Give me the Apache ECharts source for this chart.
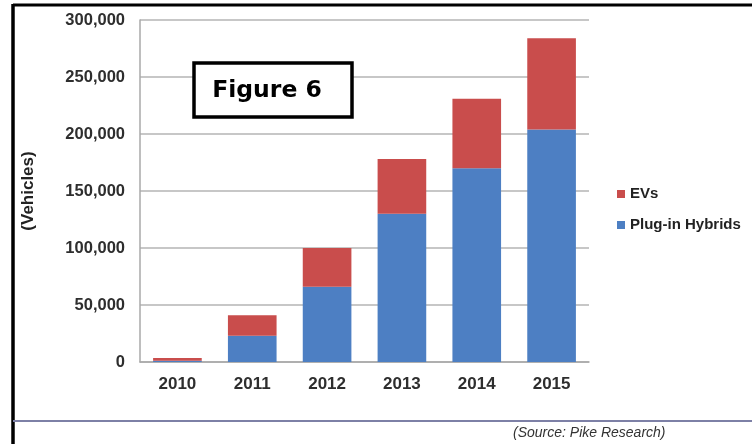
<!DOCTYPE html>
<html>
<head>
<meta charset="utf-8">
<script src="https://cdn.jsdelivr.net/npm/echarts@6/dist/echarts.min.js"></script>
<style>
html,body{margin:0;padding:0;background:#fff;}
#c{width:752px;height:444px;}
</style>
</head>
<body>
<div id="c"></div>
<script>
const years = ['2010', '2011', '2012', '2013', '2014', '2015'];
const plugInHybrids = [1000, 23000, 66000, 130000, 170000, 204000];
const evs = [2500, 18000, 34000, 48000, 61000, 80000];
const yTicks = [0, 50000, 100000, 150000, 200000, 250000, 300000];
const seriesNames = ['EVs', 'Plug-in Hybrids'];

const chart = echarts.init(document.getElementById('c'), null, {renderer: 'canvas'});
const lbl = {fontFamily: 'Liberation Sans, Arial, sans-serif', fontWeight: 'bold', color: '#2e2e2e'};

chart.setOption({
  animation: false,
  backgroundColor: '#ffffff',
  grid: {left: 140, right: 163, top: 20, bottom: 82, containLabel: false},
  legend: {
    data: seriesNames,
    orient: 'vertical',
    left: 612,
    top: 181,
    itemWidth: 8,
    itemHeight: 8,
    itemGap: 15,
    icon: 'rect',
    textStyle: Object.assign({}, lbl, {fontSize: 15, lineHeight: 16, color: '#222'})
  },
  xAxis: {
    type: 'category',
    data: years,
    axisLine: {show: true, lineStyle: {color: '#a8a8a8', width: 1.5}},
    axisTick: {show: false},
    axisLabel: Object.assign({}, lbl, {fontSize: 17, margin: 14})
  },
  yAxis: {
    type: 'value',
    min: yTicks[0],
    max: yTicks[yTicks.length - 1],
    interval: yTicks[1] - yTicks[0],
    name: '(Vehicles)',
    nameLocation: 'middle',
    nameGap: 103,
    nameRotate: 90,
    nameTextStyle: Object.assign({}, lbl, {fontSize: 17, color: '#222'}),
    axisLine: {show: true, lineStyle: {color: '#a8a8a8', width: 1.5}},
    axisTick: {show: false},
    splitLine: {show: true, lineStyle: {color: '#b4b4b4', width: 1.5}},
    axisLabel: Object.assign({}, lbl, {
      fontSize: 16.5,
      margin: 15,
      formatter: v => v.toLocaleString('en-US')
    })
  },
  series: [
    {
      name: 'Plug-in Hybrids',
      type: 'bar',
      stack: 'total',
      data: plugInHybrids,
      barCategoryGap: '35%',
      itemStyle: {color: '#4d7fc3'}
    },
    {
      name: 'EVs',
      type: 'bar',
      stack: 'total',
      data: evs,
      barCategoryGap: '35%',
      itemStyle: {color: '#c94d4c'}
    }
  ],
  graphic: [
    {type: 'line', shape: {x1: 13, y1: 5, x2: 752, y2: 5}, style: {stroke: '#000', lineWidth: 3}},
    {type: 'line', shape: {x1: 13, y1: 4, x2: 13, y2: 444}, style: {stroke: '#000', lineWidth: 3.5}},
    {type: 'line', shape: {x1: 13, y1: 421, x2: 752, y2: 421}, style: {stroke: '#7d80a6', lineWidth: 2}},
    {type: 'text', left: 513, top: 426, style: {text: '(Source: Pike Research)', font: 'italic 14px "Liberation Sans", Arial, sans-serif', fill: '#333'}},
    {type: 'rect', shape: {x: 194, y: 63, width: 158, height: 54}, style: {fill: '#fff', stroke: '#000', lineWidth: 3.5}, z: 10},
    {type: 'text', x: 267, y: 91, z: 11, style: {text: 'Figure 6', font: 'bold 23.5px "DejaVu Sans", sans-serif', fill: '#000', align: 'center', verticalAlign: 'middle'}}
  ]
});
</script>
</body>
</html>
